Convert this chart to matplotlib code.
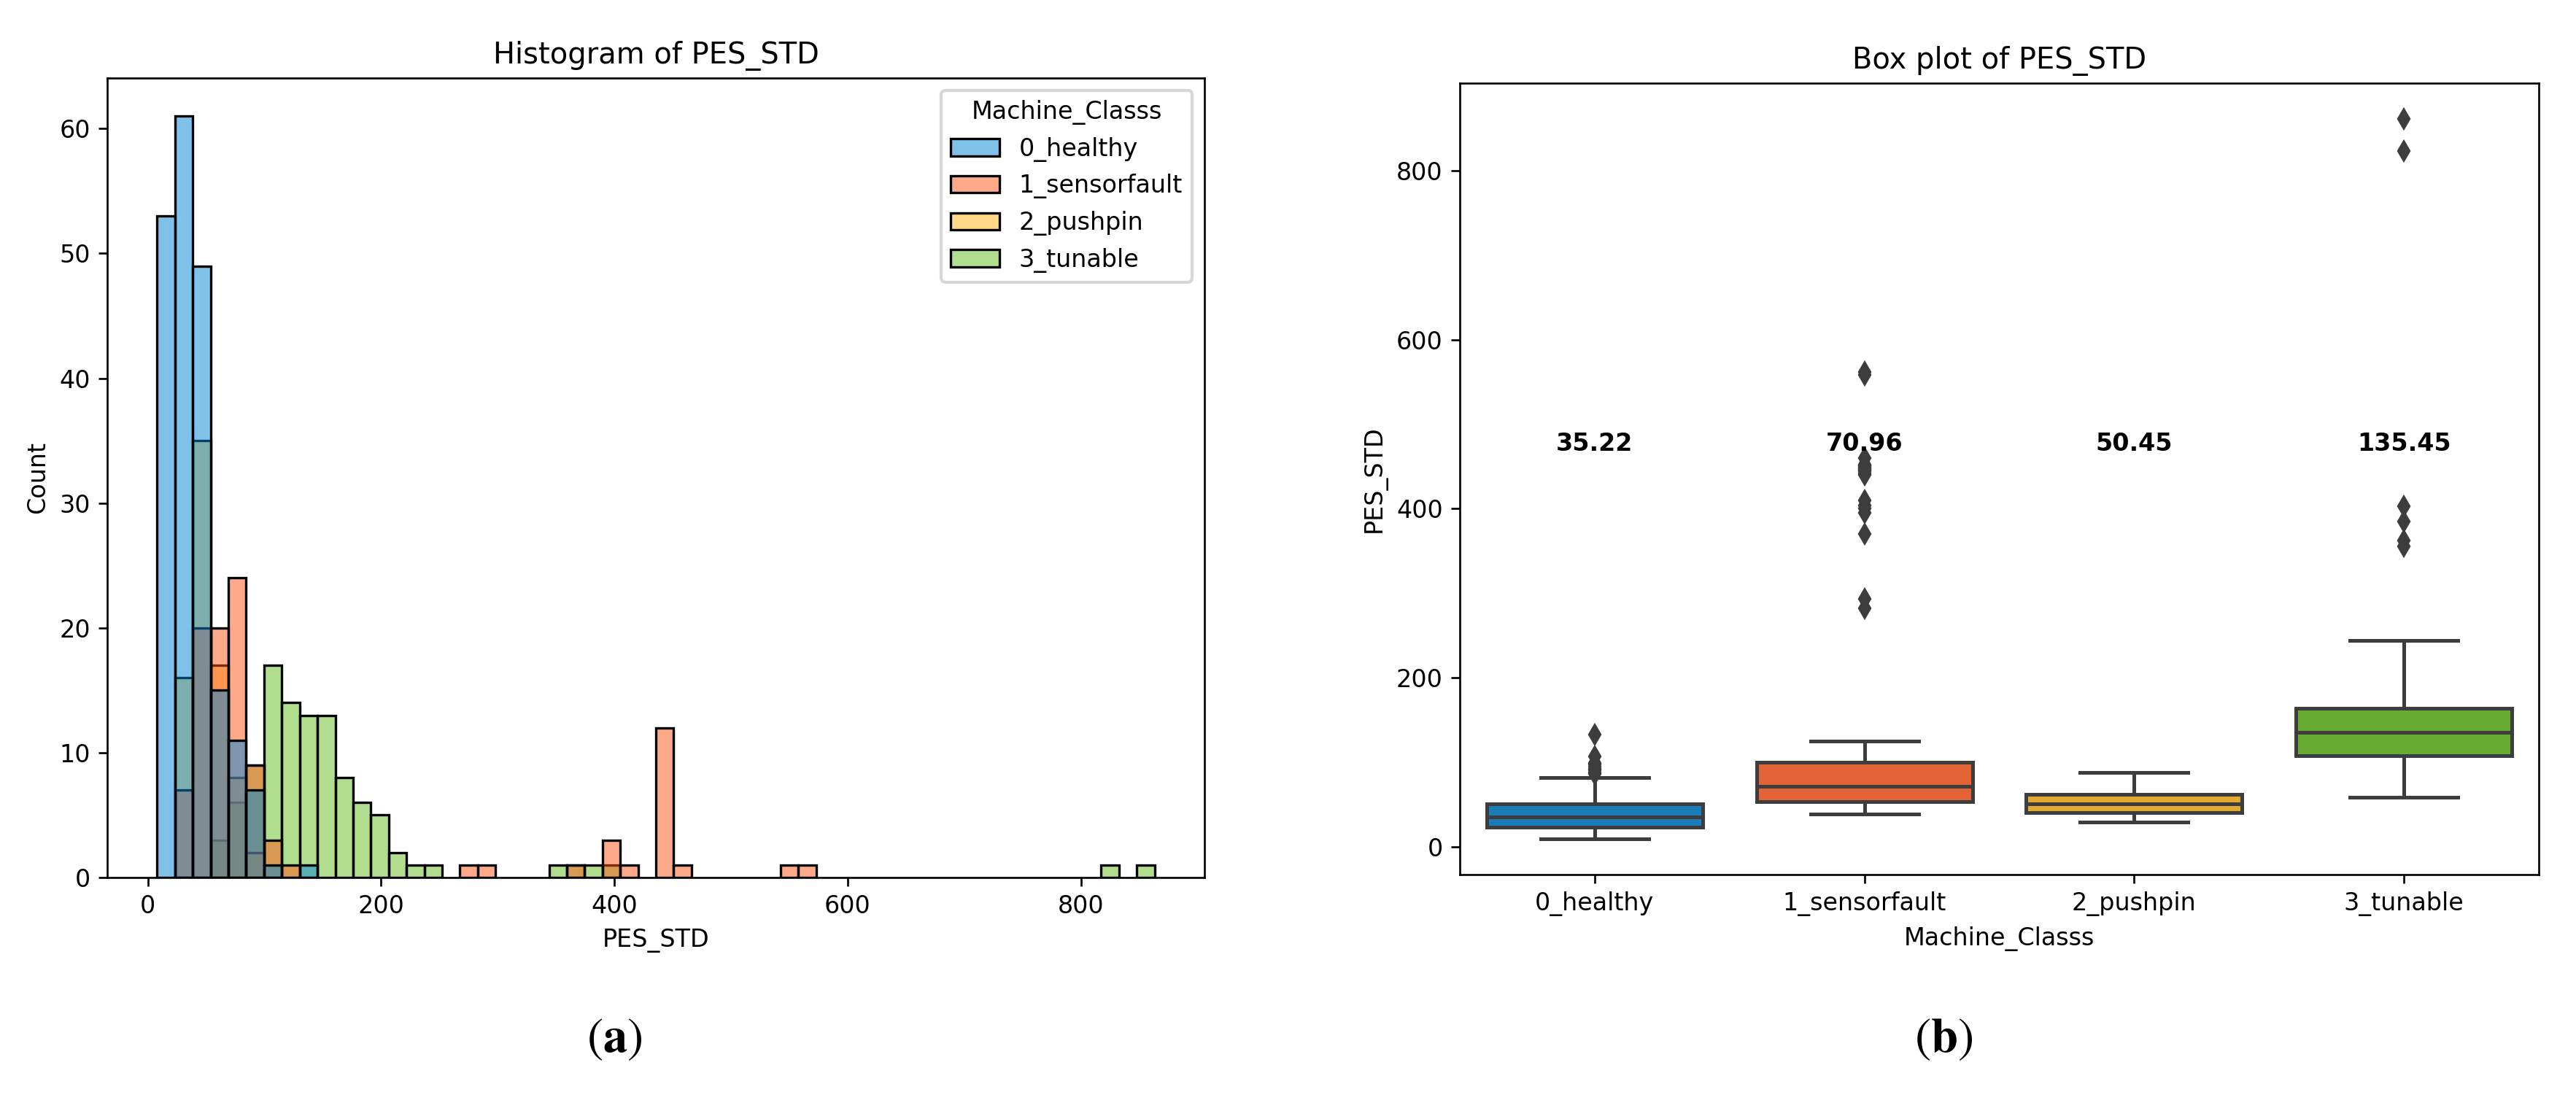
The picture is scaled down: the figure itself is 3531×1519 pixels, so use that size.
import numpy as np
import matplotlib
matplotlib.use("Agg")
import matplotlib.pyplot as plt
import colorsys
from matplotlib.colors import to_rgb, to_rgba
from matplotlib.patches import Patch

plt.rcParams['font.family'] = ['DejaVu Sans']
plt.rcParams['mathtext.fontset'] = 'stix'

# ---------------- data ----------------
classes = ["0_healthy", "1_sensorfault", "2_pushpin", "3_tunable"]
base_colors = ["#0084D4", "#FF5519", "#FFB414", "#64BE1E"]

# histogram: common bins
bin_start = 8.0
bin_width = 15.27
n_bins = 56

# per class: bin index -> count
healthy_bins = [0, 1, 2, 3, 4, 5, 6, 8]
healthy_counts = [53, 61, 49, 15, 11, 7, 1, 1]

sensorfault_bins = [1, 2, 3, 4, 5, 6, 7, 17, 18, 23, 25, 26, 28, 29, 35, 36]
sensorfault_counts = [7, 20, 20, 24, 9, 3, 1, 1, 1, 1, 3, 1, 12, 1, 1, 1]

pushpin_bins = [1, 2, 3, 4, 5]
pushpin_counts = [16, 35, 17, 8, 2]

tunable_bins = [3, 4, 5, 6, 7, 8, 9, 10, 11, 12, 13, 14, 15, 22, 23, 24, 25, 53, 55]
tunable_counts = [3, 6, 9, 17, 14, 13, 13, 8, 6, 5, 2, 1, 1, 1, 1, 1, 1, 1, 1]

hist_bins = [healthy_bins, sensorfault_bins, pushpin_bins, tunable_bins]
hist_counts = [healthy_counts, sensorfault_counts, pushpin_counts, tunable_counts]

# box plot statistics
box_whislo = [9.5, 38.5, 29.5, 58.5]
box_q1 = [23.0, 53.0, 40.5, 107.5]
box_med = [35.22, 70.96, 50.45, 135.45]
box_q3 = [50.5, 99.5, 62.0, 163.5]
box_whishi = [82.0, 125.0, 88.0, 244.0]
box_fliers = [
    [86, 88, 90, 92, 95, 97, 99, 107, 133],
    [282, 293, 370, 395, 400, 404, 410, 440, 442, 444, 445, 446, 447, 448,
     449, 450, 451, 452, 460, 558, 562],
    [],
    [355, 362, 385, 403, 823, 861],
]
label_y = 477

# ---------------- helpers ----------------
def desaturate(c, prop):
    h, l, s = colorsys.rgb_to_hls(*to_rgb(c))
    return colorsys.hls_to_rgb(h, l, s * prop)

SC = 0.8
fs_tick = 10 * SC
fs_label = 10 * SC
fs_title = 12 * SC
lw_spine = 0.8 * SC

fig = plt.figure(figsize=(3531 / 300, 1519 / 300), dpi=300)
fig.patch.set_facecolor("white")

ax1 = fig.add_axes([147 / 3531, 1 - 1203 / 1519, (1651 - 147) / 3531, (1203 - 107) / 1519])
ax2 = fig.add_axes([2001 / 3531, 1 - 1199 / 1519, (3480 - 2001) / 3531, (1199 - 114) / 1519])

for ax in (ax1, ax2):
    for sp in ax.spines.values():
        sp.set_linewidth(lw_spine)
    ax.tick_params(labelsize=fs_tick, length=3.5 * SC, width=lw_spine, pad=3.5 * SC)

# ---------------- histogram ----------------
edges = bin_start + bin_width * np.arange(n_bins + 1)
alpha = 0.5
for k in reversed(range(len(classes))):
    idx = np.array(hist_bins[k])
    ax1.bar(edges[idx], hist_counts[k], width=bin_width, align="edge",
            facecolor=to_rgba(base_colors[k], alpha), edgecolor="black",
            linewidth=1.0 * SC, zorder=2)

ax1.set_title("Histogram of PES_STD", fontsize=fs_title, pad=6 * SC)
ax1.set_xlabel("PES_STD", fontsize=fs_label, labelpad=4 * SC)
ax1.set_ylabel("Count", fontsize=fs_label, labelpad=4 * SC)
ax1.set_xticks([0, 200, 400, 600, 800])
ax1.set_yticks([0, 10, 20, 30, 40, 50, 60])

handles = [Patch(facecolor=to_rgba(c, alpha), edgecolor="black", linewidth=1.0 * SC)
           for c in base_colors]
leg = ax1.legend(handles, classes, title="Machine_Classs", loc="upper right",
                 fontsize=fs_label, title_fontsize=fs_label)

# ---------------- box plot ----------------
gray = "#3D3D3D"
stats = []
for i in range(len(classes)):
    stats.append(dict(med=box_med[i], q1=box_q1[i], q3=box_q3[i],
                      whislo=box_whislo[i], whishi=box_whishi[i],
                      fliers=box_fliers[i]))
lw_box = 1.5 * SC
bp = ax2.bxp(stats, positions=range(len(classes)), widths=0.8, patch_artist=True,
             showfliers=True,
             boxprops=dict(edgecolor=gray, linewidth=lw_box),
             medianprops=dict(color=gray, linewidth=lw_box),
             whiskerprops=dict(color=gray, linewidth=lw_box),
             capprops=dict(color=gray, linewidth=lw_box),
             flierprops=dict(marker="d", markerfacecolor=gray, markeredgecolor=gray,
                             markersize=5 * SC, linestyle="none"))
for patch, c in zip(bp["boxes"], base_colors):
    patch.set_facecolor(desaturate(c, 0.75))

for i, m in enumerate(box_med):
    ax2.text(i, label_y, f"{m:.2f}", ha="center", va="center",
             fontsize=fs_label, fontweight="bold", color="black")

ax2.set_xlim(-0.5, len(classes) - 0.5)
ax2.set_xticks(range(len(classes)))
ax2.set_xticklabels(classes)
ax2.set_yticks([0, 200, 400, 600, 800])
ax2.set_title("Box plot of PES_STD", fontsize=fs_title, pad=6 * SC)
ax2.set_xlabel("Machine_Classs", fontsize=fs_label, labelpad=4 * SC)
ax2.set_ylabel("PES_STD", fontsize=fs_label, labelpad=4 * SC)

# ---------------- captions ----------------
fig.text(842 / 3531, 1 - 1423 / 1519, r"$(\mathbf{a})$", ha="center", va="center", fontsize=16)
fig.text(2664 / 3531, 1 - 1423 / 1519, r"$(\mathbf{b})$", ha="center", va="center", fontsize=16)

fig.savefig("out.png", dpi=300, facecolor="white")
